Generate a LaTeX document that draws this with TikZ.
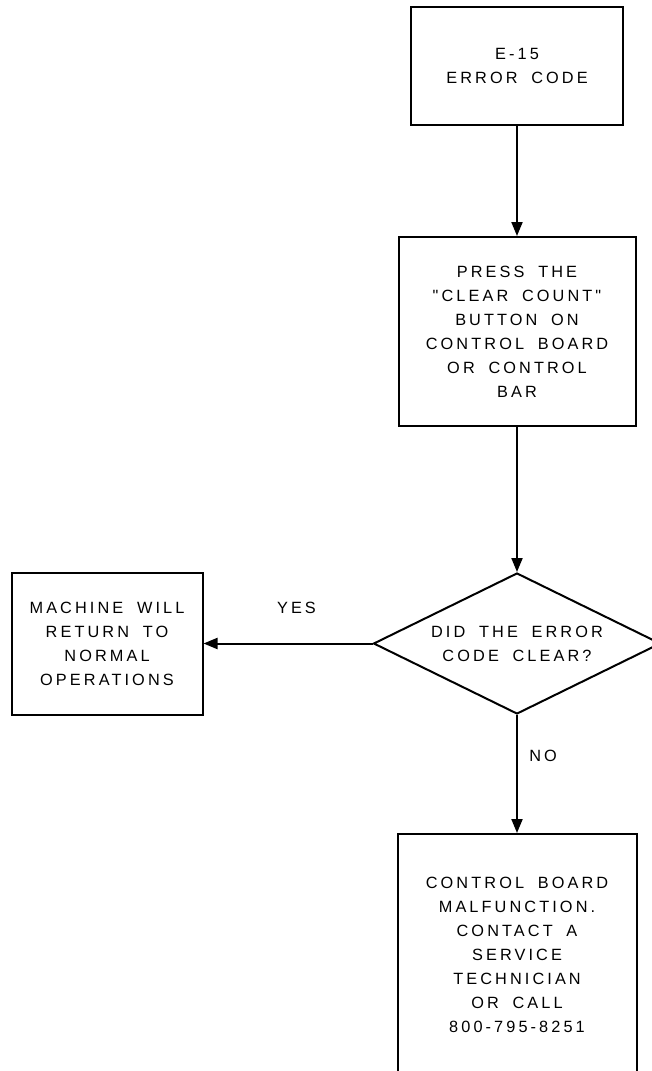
\documentclass[tikz,border=0pt]{standalone}
\usepackage{fontspec}
\setmainfont{Liberation Sans}
\newfontfamily\chartfont[LetterSpace=19,WordSpace=1.8]{Liberation Sans}
\usetikzlibrary{arrows.meta,shapes.geometric,positioning}

\begin{document}
\begin{tikzpicture}[
				x=1pt,y=-1pt,
				font=\chartfont\fontsize{16.3}{24}\selectfont,
				stepbox/.style={draw,rectangle,line width=2pt,align=center,inner sep=0pt},
				query/.style={draw,diamond,aspect=2,line width=2pt,align=center,inner sep=0pt,minimum width=287pt,minimum height=141pt},
				flow/.style={-{Triangle[length=14pt,width=11pt]},line width=2pt}
				]
				\useasboundingbox (0,0) rectangle (652,1071);
				
				\node[stepbox,minimum width=212pt,minimum height=118pt] (code) at (517,66) {E-15\\ERROR CODE};
				\node[stepbox,minimum width=237pt,minimum height=189pt,below=110pt of code] (press) {PRESS THE\\"CLEAR COUNT"\\BUTTON ON\\CONTROL BOARD\\OR CONTROL\\BAR};
				\node[query,below=145pt of press] (cleared) {DID THE ERROR\\CODE CLEAR?};
				\node[stepbox,minimum width=191pt,minimum height=142pt,left=169pt of cleared] (normal) {MACHINE WILL\\RETURN TO\\NORMAL\\OPERATIONS};
				\node[stepbox,minimum width=239pt,minimum height=242pt,below=118pt of cleared] (service) {CONTROL BOARD\\MALFUNCTION.\\CONTACT A\\SERVICE\\TECHNICIAN\\OR CALL\\800-795-8251};
				
				% arrows
				\draw[flow] (code) -- (press);
				\draw[flow] (press) -- (cleared);
				\draw[flow] (cleared) -- (normal) node[pos=0.45,above=26pt] {YES};
				\draw[flow] (cleared) -- (service) node[pos=0.35,right=8pt] {NO};
				
			\end{tikzpicture}
\end{document}
